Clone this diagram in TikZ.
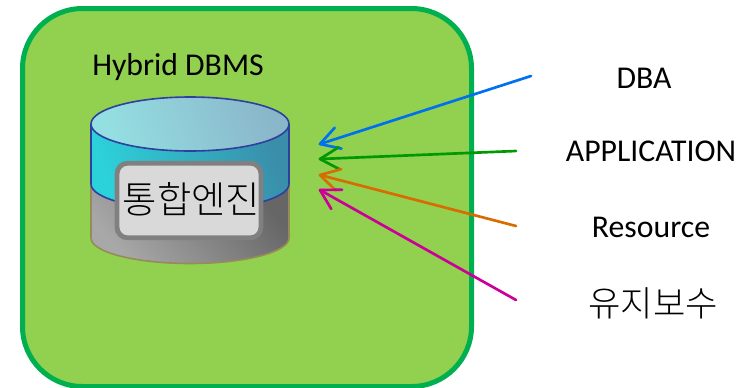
\documentclass[tikz,border=0pt]{standalone}
\usepackage{fontspec}
\setmainfont{Carlito}
\newfontfamily\krfont{Noto Sans CJK KR Light}
\usetikzlibrary{calc}
\definecolor{panelgreen}{HTML}{92D050}
\definecolor{panelborder}{HTML}{00B050}
\definecolor{arblue}{HTML}{0070F0}
\definecolor{argreen}{HTML}{009900}
\definecolor{arorange}{HTML}{D86C00}
\definecolor{armag}{HTML}{CC0099}
\definecolor{topl}{HTML}{94DFE2}
\definecolor{topr}{HTML}{8AB6CA}
\definecolor{cylL}{HTML}{2CD2DA}
\definecolor{cylR}{HTML}{3A8EAA}
\definecolor{grayL}{HTML}{A8A8A8}
\definecolor{grayR}{HTML}{666666}
\definecolor{grayedge}{HTML}{968C5A}
\definecolor{cyledge}{HTML}{2E3FA0}
\tikzset{
  x=0.75pt,y=-0.75pt,
  conn/.style={line width=2pt,line cap=round,line join=round},
  lab/.style={inner sep=0pt,font=\fontsize{23.8pt}{28pt}\selectfont,text=black},
  lab kr/.style={inner sep=0pt,font=\krfont\fontsize{26.4pt}{30pt}\selectfont,text=black},
}
\newcommand{\barbline}[3]{%
  \draw[conn,#1] (#2) -- (#3);
  \draw[conn,#1] ($(#3)!16.5pt!30:(#2)$) -- (#3) -- ($(#3)!16.5pt!-30:(#2)$);
}
\begin{document}
\begin{tikzpicture}
\useasboundingbox (0,0) rectangle (753,387);
\begin{scope}
\clip (0,0) rectangle (753,387);
\draw[panelborder,fill=panelgreen,line width=3.75pt,rounded corners=45pt] (22.5,8.5) rectangle (471.5,386.5);
% gray lower part
\path[left color=grayL,right color=grayR,shading angle=130]
  (91,185) -- (289,185) -- (289,238) arc[start angle=0,end angle=180,x radius=99,y radius=25.5] -- cycle;
\draw[draw=grayedge,line width=1.2pt]
  (91,185) -- (91,238) arc[start angle=180,end angle=0,x radius=99,y radius=25.5] -- (289,185);
% cyan body
\path[left color=cylL,right color=cylR,shading angle=110]
  (91,124) -- (289,124) -- (289,184) arc[start angle=0,end angle=180,x radius=99,y radius=26] -- cycle;
\draw[draw=cyledge,line width=1.2pt]
  (91,124) -- (91,184) arc[start angle=180,end angle=0,x radius=99,y radius=26] -- (289,124);
% top ellipse
\draw[draw=cyledge,line width=1.2pt,left color=topl,right color=topr,shading angle=110]
  (190,124) ellipse[x radius=99,y radius=27];
\end{scope}
\node[draw=black!50,fill=black!15,line width=3.6pt,rounded corners=8pt,minimum width=108pt,minimum height=56pt,inner sep=0pt] (engine) at (189,200.5) {};
\node[inner sep=0pt,font=\krfont\fontsize{28pt}{32pt}\selectfont] (enginetext) at (191.5,199) {통합엔진};
\node[lab,anchor=center] (title) at (178,67) {Hybrid DBMS};
\node[lab] (dba) at (644,78) {DBA};
\node[lab] (app) at (651,151) {APPLICATION};
\node[lab] (res) at (651,227) {Resource};
\node[lab kr] (maint) at (653,303) {유지보수};
\coordinate (sblue) at (531,76);
\coordinate (sgreen) at (516,151);
\coordinate (sorange) at (516,226);
\coordinate (smag) at (516,300);
\coordinate (tblue) at (320,144);
\coordinate (tgreen) at (320,159);
\coordinate (torange) at (320,175);
\coordinate (tmag) at (320,190);
\barbline{arblue}{sblue}{tblue}
\barbline{argreen}{sgreen}{tgreen}
\barbline{arorange}{sorange}{torange}
\barbline{armag}{smag}{tmag}
\end{tikzpicture}
\end{document}
